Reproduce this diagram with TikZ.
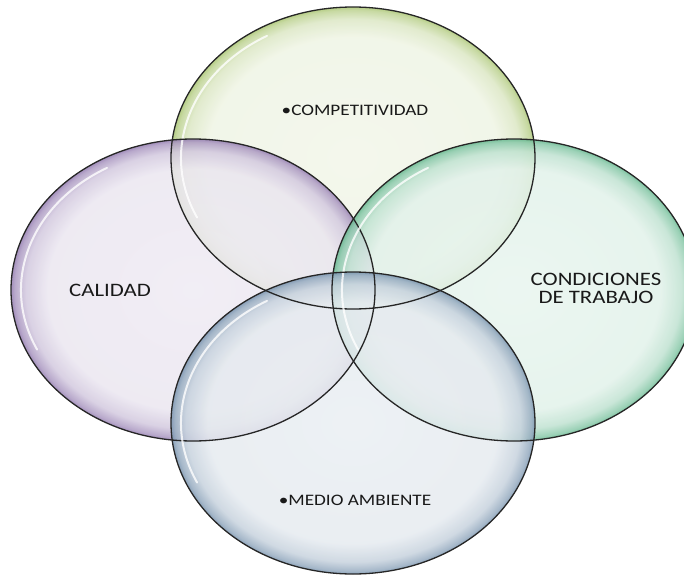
\documentclass[tikz,border=0pt]{standalone}
\usepackage{fontspec}
\setmainfont{Carlito}[FakeStretch=1.2]
\usetikzlibrary{shapes.geometric,positioning,calc}
\definecolor{olivegreen}{RGB}{155,187,89}
\definecolor{lilac}{RGB}{128,100,162}
\definecolor{seagreen}{RGB}{75,172,124}
\definecolor{steelblue}{RGB}{95,127,159}
\definecolor{textgray}{RGB}{25,25,25}

% rim shadings for the four bubbles
\pgfdeclareradialshading{rimolive}{\pgfpoint{0bp}{0bp}}{color(0bp)=(olivegreen!13); color(20bp)=(olivegreen!16); color(23bp)=(olivegreen!35); color(24.5bp)=(olivegreen!65); color(25bp)=(olivegreen!85); color(50bp)=(olivegreen!85)}
\pgfdeclareradialshading{rimlilac}{\pgfpoint{0bp}{0bp}}{color(0bp)=(lilac!13); color(20bp)=(lilac!16); color(23bp)=(lilac!35); color(24.5bp)=(lilac!65); color(25bp)=(lilac!85); color(50bp)=(lilac!85)}
\pgfdeclareradialshading{rimsea}{\pgfpoint{0bp}{0bp}}{color(0bp)=(seagreen!13); color(20bp)=(seagreen!16); color(23bp)=(seagreen!35); color(24.5bp)=(seagreen!65); color(25bp)=(seagreen!85); color(50bp)=(seagreen!85)}
\pgfdeclareradialshading{rimsteel}{\pgfpoint{0bp}{0bp}}{color(0bp)=(steelblue!13); color(20bp)=(steelblue!16); color(23bp)=(steelblue!35); color(24.5bp)=(steelblue!65); color(25bp)=(steelblue!85); color(50bp)=(steelblue!85)}

\tikzset{
  bubble/.style={ellipse, minimum width=364pt, minimum height=302pt, inner sep=0pt, shade, fill opacity=0.85},
  rim/.style={draw=black!85, line width=1.3pt},
  gloss/.style={draw=white, line width=2pt, opacity=0.8, line cap=round},
  smalltext/.style={text=textgray, font=\fontsize{16}{18}\selectfont, anchor=base},
  bigtext/.style={text=textgray, font=\fontsize{19}{18}\selectfont, align=center}
}

\begin{document}
\begin{tikzpicture}[x=1pt, y=1pt]
    \useasboundingbox (0,0) rectangle (684,574);

    \node[bubble, shading=rimolive] (comp) at (353,416) {};
    \node[bubble, shading=rimlilac] (cal) at (193,284) {};
    \node[bubble, shading=rimsea] (cond) at (514,284) {};
    \node[bubble, shading=rimsteel] (medio) at (353,151) {};

    \foreach \n in {comp,cal,cond,medio}{
        \draw[gloss] (\n.center) ++(120:172 and 141) arc[start angle=120, end angle=205, x radius=172, y radius=141];
        \draw[rim] (\n.center) ellipse [x radius=182, y radius=151];
    }

    \node[smalltext] (comptext) at (355,458) {•COMPETITIVIDAD};
    \node[bigtext, anchor=base] (caltext) at (110,278) {CALIDAD};
    \node[bigtext] (condtext) at (596,286) {CONDICIONES\\DE TRABAJO};
    \node[smalltext] (mediotext) at (355,69) {•MEDIO AMBIENTE};
\end{tikzpicture}
\end{document}
